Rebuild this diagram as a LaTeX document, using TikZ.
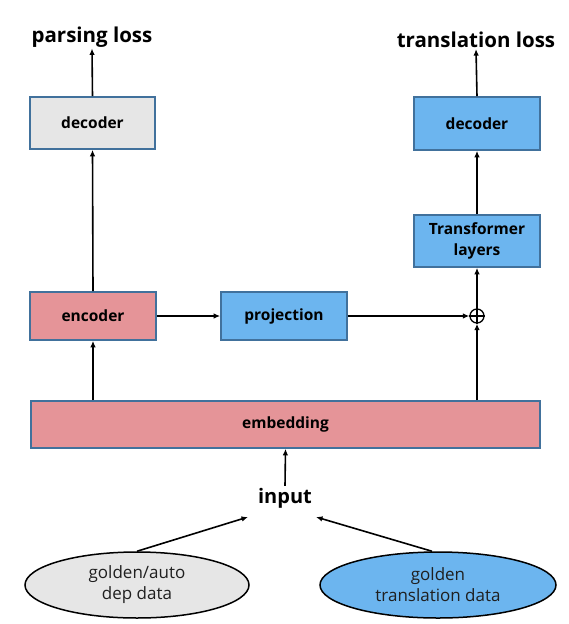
\documentclass[tikz,border=0pt]{standalone}
\usepackage{fontspec}
\setmainfont{Open Sans}
\usetikzlibrary{arrows.meta,shapes.geometric}
\definecolor{bord}{HTML}{41719C}
\definecolor{gbox}{HTML}{E6E6E6}
\definecolor{pbox}{HTML}{E59498}
\definecolor{bbox}{HTML}{6CB5EF}
\tikzset{
  blk/.style={draw=bord,line width=1.6pt,minimum width=125pt,minimum height=50pt,font=\bfseries\fontsize{15.5}{18}\selectfont,align=center,inner sep=0pt},
  lossl/.style={font=\bfseries\fontsize{20.5}{24}\selectfont,inner sep=1pt},
  ell/.style={ellipse,draw=black,line width=1.5pt,font=\fontsize{17}{21}\selectfont,align=center,text=black!88},
  arr/.style={-{Latex[length=6.5pt,width=5.5pt]},line width=1.6pt},
}
\begin{document}
\begin{tikzpicture}[x=1pt,y=-1pt]
\useasboundingbox (0,0) rectangle (568,624);
\node[blk,fill=gbox,minimum width=125pt,minimum height=52pt] (dec1) at (92.5,123) {decoder};
\node[lossl] (pl) at (92,37) {parsing loss};
\node[blk,fill=pbox,minimum height=48pt,minimum width=126pt] (enc) at (93,316) {encoder};
\node[blk,fill=bbox,minimum height=48pt,minimum width=126pt] (proj) at (284,316) {projection};
\node[circle,draw,line width=1.3pt,inner sep=0pt,minimum size=14pt] (op) at (477,316) {};
\draw[line width=1.3pt] (op.north) -- (op.south) (op.west) -- (op.east);
\node[blk,fill=bbox,minimum height=52pt,minimum width=126pt] (tl) at (477,241) {Transformer\\[3pt]layers};
\node[blk,fill=bbox,minimum height=53pt,minimum width=126pt] (dec2) at (477,123.5) {decoder};
\node[lossl] (tls) at (476,40) {translation loss};
\node[blk,fill=pbox,minimum width=509pt,minimum height=47pt] (emb) at (285.5,424.5) {embedding};
\node[font=\bfseries\fontsize{20}{24}\selectfont,inner sep=2pt] (in) at (285,498) {input};
\node[ell,fill=gbox,minimum width=224pt,minimum height=66pt] (e1) at (137,585) {golden/auto\\dep data};
\node[ell,fill=bbox,minimum width=236pt,minimum height=66pt] (e2) at (438,585) {golden\\translation data};
\coordinate (a1) at (248,517);
\coordinate (a2) at (316,517);
\draw[arr] (dec1.north) -- (pl.south);
\draw[arr] (enc.north) -- (dec1.south);
\draw[arr] (enc.east) -- (proj.west);
\draw[arr] (proj.east) -- (op.west);
\draw[arr] (op.north) -- (tl.south);
\draw[arr] (tl.north) -- (dec2.south);
\draw[arr] (dec2.north) -- (tls.south);
\draw[arr] (emb.north -| enc.south) -- (enc.south);
\draw[arr] (emb.north -| op.south) -- (op.south);
\draw[arr] (in.north) -- (emb.south);
\draw[arr] (e1.north) -- (a1);
\draw[arr] ([xshift=-6pt]e2.north) -- (a2);
\end{tikzpicture}
\end{document}
